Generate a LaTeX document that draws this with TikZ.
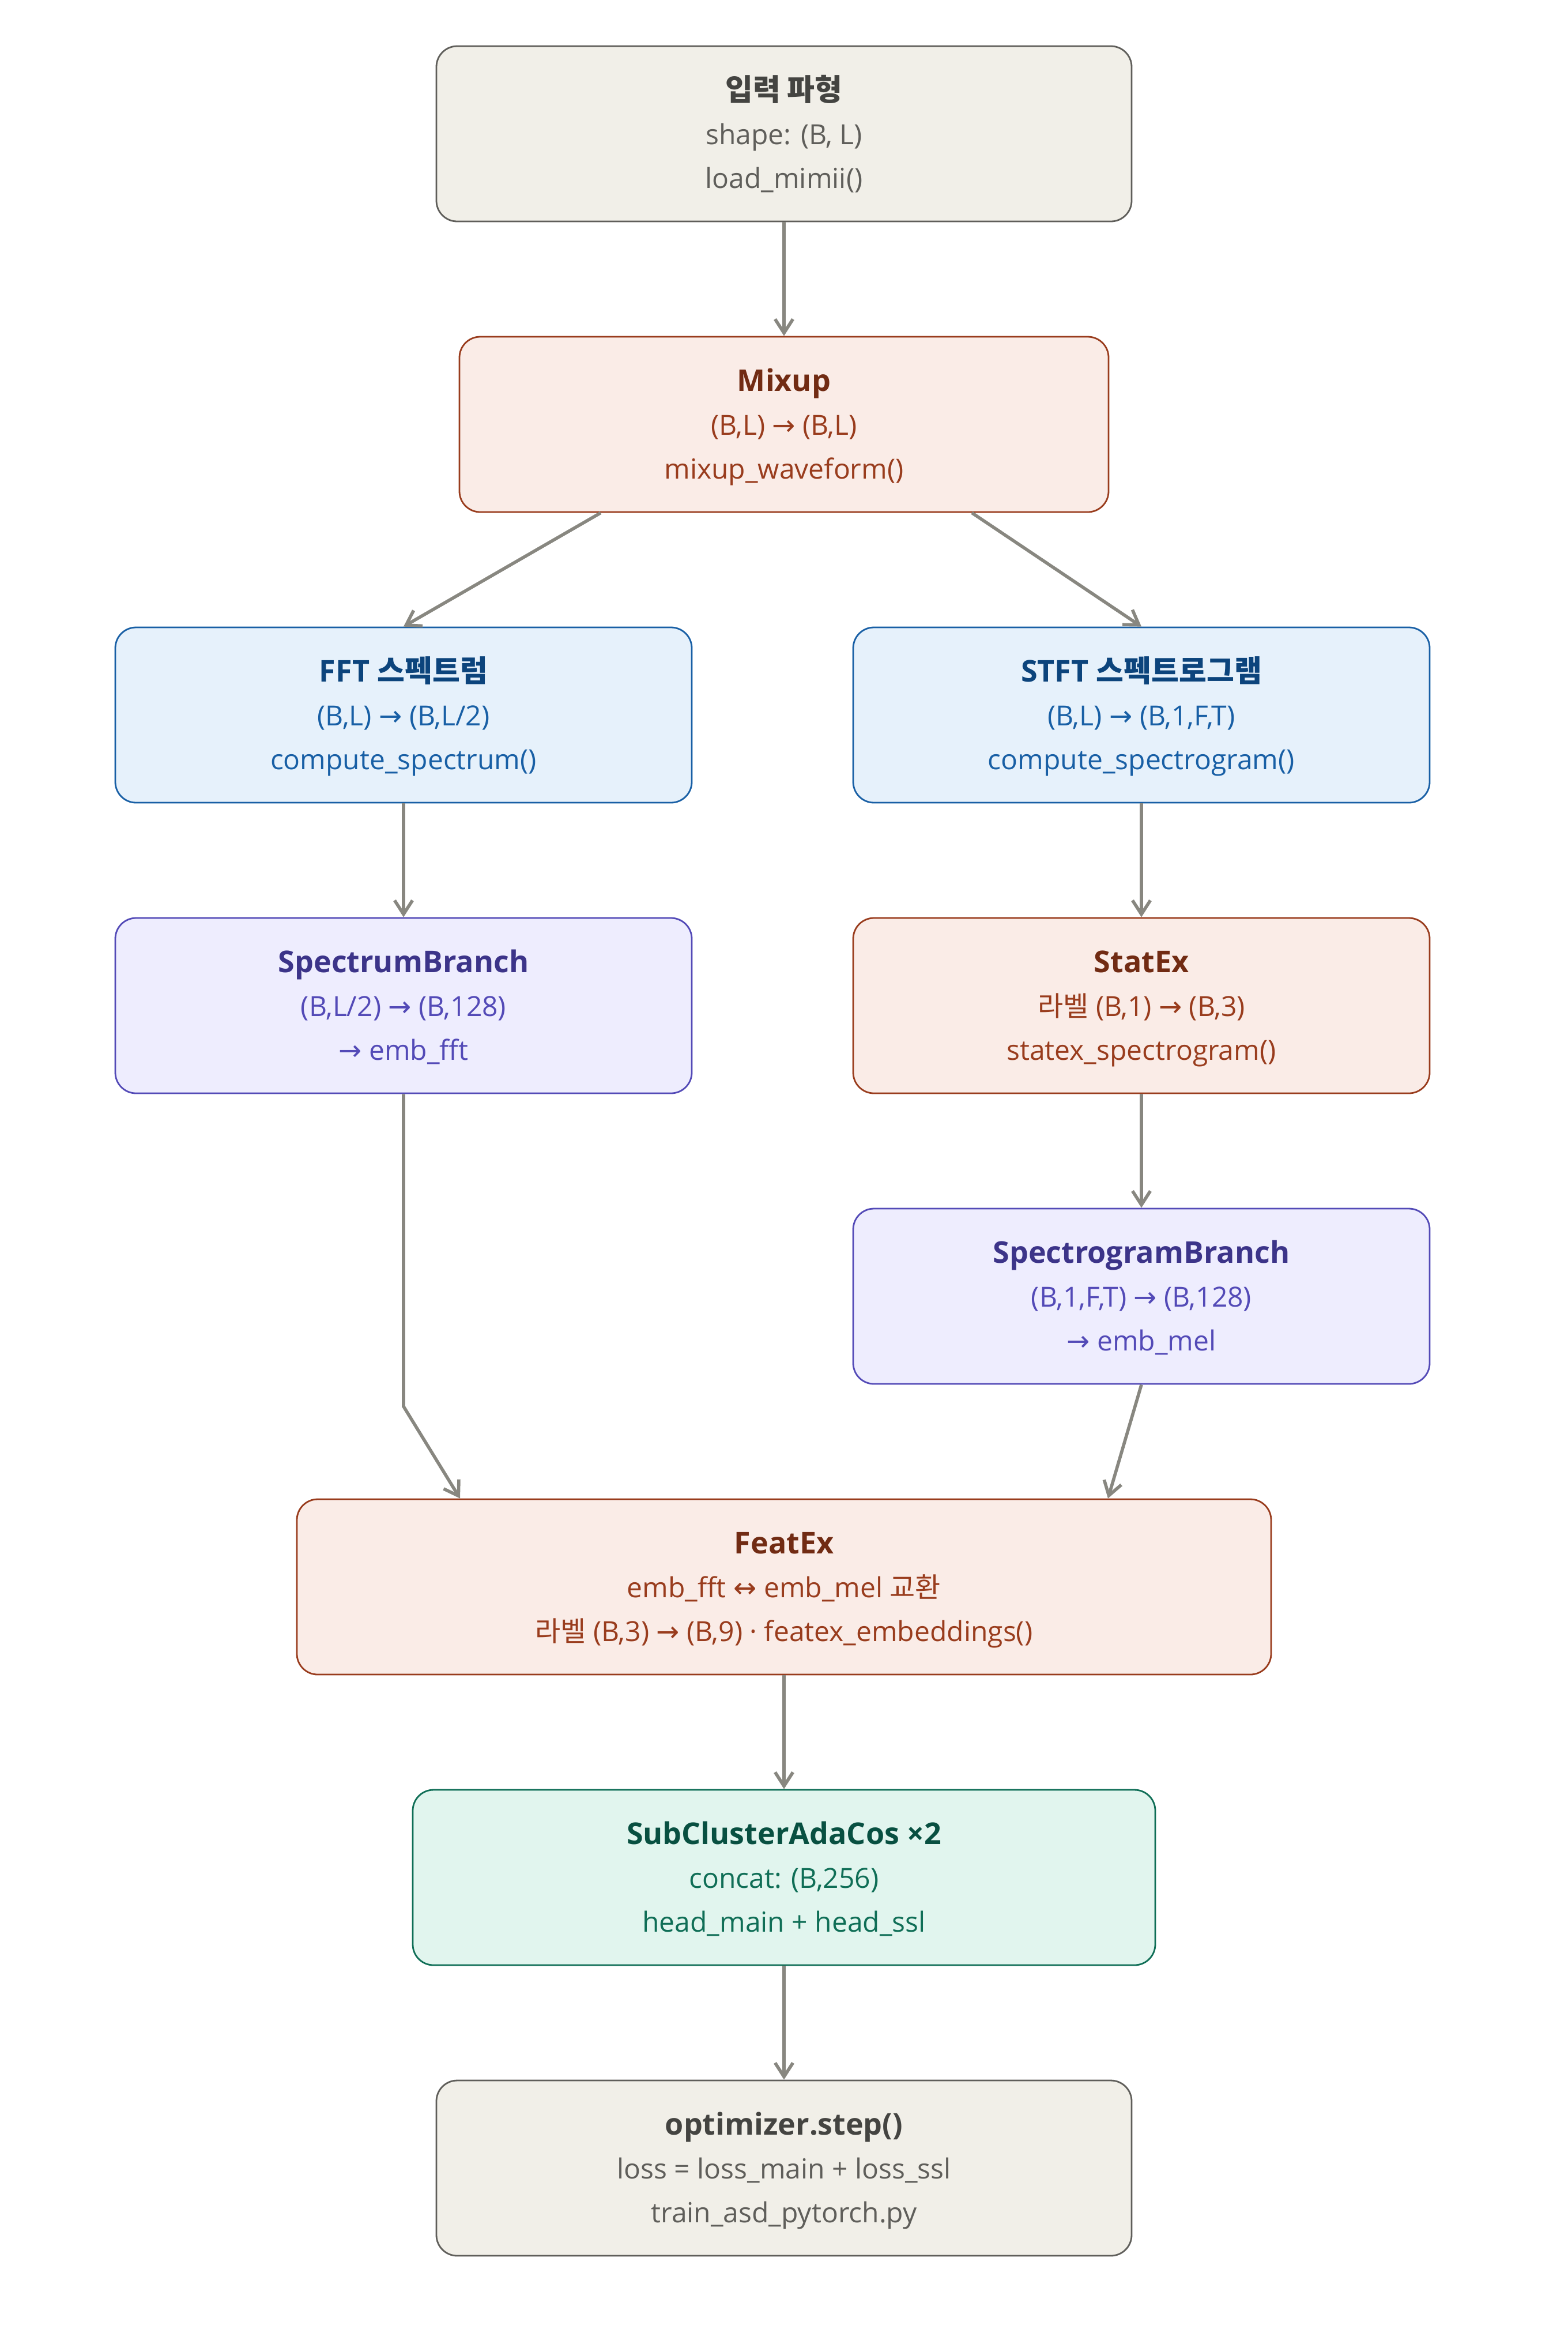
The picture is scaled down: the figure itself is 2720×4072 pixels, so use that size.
\documentclass[tikz,border=0pt]{standalone}
\usepackage{fontspec}
\setmainfont{Open Sans}
\newfontfamily\kr{Noto Sans CJK KR}
\newfontfamily\symf{DejaVu Sans}
\usetikzlibrary{arrows.meta}
\definecolor{gfill}{HTML}{F1EFE8}\definecolor{gline}{HTML}{5F5E5A}\definecolor{gttl}{HTML}{444441}\definecolor{gsub}{HTML}{5F5E5A}
\definecolor{cfill}{HTML}{FAECE7}\definecolor{cline}{HTML}{993C1D}\definecolor{cttl}{HTML}{712B13}\definecolor{csub}{HTML}{993C1D}
\definecolor{bfill}{HTML}{E6F1FB}\definecolor{bline}{HTML}{185FA5}\definecolor{bttl}{HTML}{0C447C}\definecolor{bsub}{HTML}{185FA5}
\definecolor{pfill}{HTML}{EEEDFE}\definecolor{pline}{HTML}{534AB7}\definecolor{pttl}{HTML}{3C3489}\definecolor{psub}{HTML}{534AB7}
\definecolor{tfill}{HTML}{E1F5EE}\definecolor{tline}{HTML}{0F6E56}\definecolor{tttl}{HTML}{085041}\definecolor{tsub}{HTML}{0F6E56}
\definecolor{connc}{HTML}{888780}
\newcommand\myar{{\symf\fontsize{12}{12}\selectfont →}}
\newcommand\mylrar{{\symf\fontsize{12}{12}\selectfont ↔}}
\newcommand\mybox[8]{%
  \node[boxs, fill=#5fill, draw=#5line, minimum width=#4] (#1) at (#2,#3) {};
  \node[ttl, text=#5ttl] (#1-t) at ([yshift=14.5pt]#1.center) {#6};
  \node[subl, text=#5sub] (#1-a) at ([yshift=-4.65pt]#1.center) {#7};
  \node[subl, text=#5sub] (#1-b) at ([yshift=-23.65pt]#1.center) {#8};
}
\begin{document}
\begin{tikzpicture}[x=0.25pt,y=-0.25pt,
  boxs/.style={rounded corners=9pt, line width=0.7pt, minimum height=76pt, inner sep=0pt},
  ttl/.style={font=\bfseries\fontsize{13}{16}\selectfont, anchor=base, inner sep=0pt},
  subl/.style={font=\fontsize{12}{14}\selectfont, anchor=base, inner sep=0pt},
  conn/.style={draw=connc, line width=1.4pt, -{Straight Barb[length=6pt,width=7.75pt]}}]
\useasboundingbox (0,0) rectangle (2720,4072);
\mybox{in}{1360}{232}{301.5pt}{g}{\kr 입력 파형}{shape: (B, L)}{load\_mimii()}
\mybox{mix}{1360}{736}{281.5pt}{c}{Mixup}{(B,L) \myar{} (B,L)}{mixup\_waveform()}
\mybox{fft}{700}{1240}{250pt}{b}{FFT {\kr 스펙트럼}}{(B,L) \myar{} (B,L/2)}{compute\_spectrum()}
\mybox{stft}{1980}{1240}{250pt}{b}{STFT {\kr 스펙트로그램}}{(B,L) \myar{} (B,1,F,T)}{compute\_spectrogram()}
\mybox{spb}{700}{1744}{250pt}{p}{SpectrumBranch}{(B,L/2) \myar{} (B,128)}{\myar{} emb\_fft}
\mybox{stx}{1980}{1744}{250pt}{c}{StatEx}{{\kr 라벨} (B,1) \myar{} (B,3)}{statex\_spectrogram()}
\mybox{sgb}{1980}{2248}{250pt}{p}{SpectrogramBranch}{(B,1,F,T) \myar{} (B,128)}{\myar{} emb\_mel}
\mybox{feat}{1360}{2752}{422.5pt}{c}{FeatEx}{emb\_fft \mylrar{} emb\_mel {\kr 교환}}{{\kr 라벨} (B,3) \myar{} (B,9) · featex\_embeddings()}
\mybox{sub}{1360}{3256}{322pt}{t}{SubClusterAdaCos ×2}{concat: (B,256)}{head\_main + head\_ssl}
\mybox{opt}{1360}{3760}{301.5pt}{g}{optimizer.step()}{loss = loss\_main + loss\_ssl}{train\_asd\_pytorch.py}
\coordinate (bend) at (700,2439);
\draw[conn] (in.south) -- (mix.north);
\draw[conn] ([xshift=-79.5pt]mix.south) -- (fft.north);
\draw[conn] ([xshift=81.5pt]mix.south) -- (stft.north);
\draw[conn] (fft.south) -- (spb.north);
\draw[conn] (stft.south) -- (stx.north);
\draw[conn] (stx.south) -- (sgb.north);
\draw[conn] (spb.south) -- (bend) -- ([xshift=-140.5pt]feat.north);
\draw[conn] (sgb.south) -- ([xshift=140.5pt]feat.north);
\draw[conn] (feat.south) -- (sub.north);
\draw[conn] (sub.south) -- (opt.north);
\end{tikzpicture}
\end{document}
